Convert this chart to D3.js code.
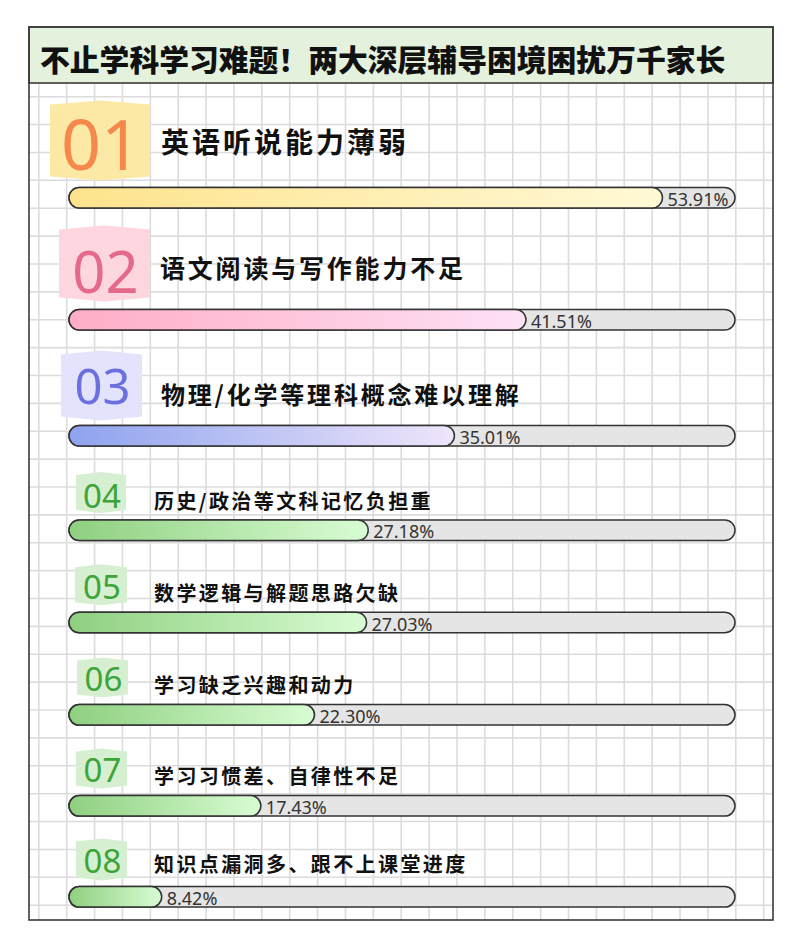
<!DOCTYPE html>
<html>
<head>
<meta charset="utf-8">
<script src="https://cdn.jsdelivr.net/npm/d3@7"></script>
<style>
  html, body { margin: 0; padding: 0; background: #ffffff; }
  svg { display: block; }
</style>
</head>
<body>
<svg id="chart" width="800" height="952"></svg>
<script>
// ---------------- data ----------------
const title = "不止学科学习难题！两大深层辅导困境困扰万千家长";
const ranks = ["01", "02", "03", "04", "05", "06", "07", "08"];
const labels = [
  "英语听说能力薄弱",
  "语文阅读与写作能力不足",
  "物理/化学等理科概念难以理解",
  "历史/政治等文科记忆负担重",
  "数学逻辑与解题思路欠缺",
  "学习缺乏兴趣和动力",
  "学习习惯差、自律性不足",
  "知识点漏洞多、跟不上课堂进度"
];
const values = [53.91, 41.51, 35.01, 27.18, 27.03, 22.30, 17.43, 8.42];
const valueDomain = [0, 60.5];

// ---------------- layout / style ----------------
const W = 800, H = 952;
const frame = { x0: 29, x1: 773, y0: 27, y1: 920 };
const titleBoxBottom = 83;
const track = { x0: 69, x1: 735, h: 20.5 };
const firstBarTop = 187.5;
const rowPitch = [122, 116, 94.5, 92.3, 92.3, 91, 91];

const themes = [
  { badge: "#fde9a6", num: "#f5894b", g0: "#fde38c", g1: "#fff9d6" },
  { badge: "#fdd6df", num: "#e5698a", g0: "#ffadc6", g1: "#fde1f6" },
  { badge: "#e4e3fd", num: "#6b70e0", g0: "#8ea3ee", g1: "#efe5fb" },
  { badge: "#d5efd0", num: "#3da43a", g0: "#8fd080", g1: "#d8fcd3" }
];
// per-row style: badge box relative to bar top, number font, label font
const rowStyle = [
  { theme: 0, bx0: 50, bx1: 150, by0: -87, by1: -7, bulge: 4, num: 70, numDy: -45, lab: 28, ls: 3, labDy: -46.5, lx: 161 },
  { theme: 1, bx0: 59, bx1: 150, by0: -84, by1: -8, bulge: 4, num: 58, numDy: -39, lab: 25, ls: 2.8, labDy: -42.5, lx: 160 },
  { theme: 2, bx0: 61, bx1: 142, by0: -75, by1: -5, bulge: 4, num: 49, numDy: -41, lab: 24, ls: 2.8, labDy: -32.5, lx: 161 },
  { theme: 3, bx0: 76, bx1: 126, by0: -48, by1: -7, bulge: 3, num: 33, numDy: -25, lab: 20, ls: 2.4, labDy: -20, lx: 154 },
  { theme: 3, bx0: 75, bx1: 127, by0: -48, by1: -7, bulge: 3, num: 33, numDy: -26, lab: 20, ls: 2.4, labDy: -20, lx: 154 },
  { theme: 3, bx0: 77, bx1: 128, by0: -47, by1: -7, bulge: 3, num: 33, numDy: -26, lab: 20, ls: 2.4, labDy: -20, lx: 154 },
  { theme: 3, bx0: 76, bx1: 127, by0: -47, by1: -7, bulge: 3, num: 33, numDy: -26, lab: 20, ls: 2.4, labDy: -20, lx: 154 },
  { theme: 3, bx0: 76, bx1: 127, by0: -48, by1: -6, bulge: 3, num: 33, numDy: -26, lab: 20, ls: 2.4, labDy: -23, lx: 154 }
];

const cjk = "'Noto Sans CJK SC', 'Noto Sans', sans-serif";
const latin = "'Noto Sans', 'Noto Sans CJK SC', sans-serif";

const svg = d3.select("#chart");
const defs = svg.append("defs");

// ---------------- background grid ----------------
svg.append("rect").attr("width", W).attr("height", H).attr("fill", "#ffffff");
const grid = svg.append("g").attr("stroke", "#dcdcdc").attr("stroke-width", 1.6);
const gridStep = 27.88;
const vx = d3.range(38.8, frame.x1 - 2, gridStep);
const hy = d3.range(68.8, frame.y1 - 2, gridStep);
grid.selectAll("line.v").data(vx).join("line").attr("class", "v")
  .attr("x1", d => d).attr("x2", d => d).attr("y1", frame.y0).attr("y2", frame.y1);
grid.selectAll("line.h").data(hy).join("line").attr("class", "h")
  .attr("x1", frame.x0).attr("x2", frame.x1).attr("y1", d => d).attr("y2", d => d);

// ---------------- title ----------------
svg.append("rect")
  .attr("x", frame.x0).attr("y", frame.y0)
  .attr("width", frame.x1 - frame.x0).attr("height", titleBoxBottom - frame.y0)
  .attr("fill", "#e3f1dd").attr("stroke", "#3a3a3a").attr("stroke-width", 1.6);
svg.append("text")
  .attr("x", 40).attr("y", 58)
  .attr("dominant-baseline", "central")
  .attr("font-family", cjk).attr("font-weight", 900).attr("font-size", 29.8)
  .attr("fill", "#111").text(title);

// outer frame
svg.append("rect")
  .attr("x", frame.x0).attr("y", frame.y0)
  .attr("width", frame.x1 - frame.x0).attr("height", frame.y1 - frame.y0)
  .attr("fill", "none").attr("stroke", "#3a3a3a").attr("stroke-width", 1.6);

// ---------------- scales ----------------
const x = d3.scaleLinear().domain(valueDomain).range([track.x0, track.x1]);
const barTops = [firstBarTop, ...d3.cumsum(rowPitch).map(d => firstBarTop + d)];
const fmt = d3.format(".2f");

// gradients
themes.forEach((t, i) => {
  const g = defs.append("linearGradient").attr("id", "grad" + i)
    .attr("x1", "0%").attr("x2", "100%").attr("y1", "0%").attr("y2", "0%");
  g.append("stop").attr("offset", "0%").attr("stop-color", t.g0);
  g.append("stop").attr("offset", "100%").attr("stop-color", t.g1);
});

const rows = ranks.map((r, i) => ({ rank: r, label: labels[i], value: values[i], top: barTops[i], st: rowStyle[i] }));

const row = svg.selectAll("g.row").data(rows).join("g").attr("class", "row");

// badge
row.append("path")
  .attr("d", d => {
    const s = d.st, t = d.top;
    const x0 = s.bx0, x1 = s.bx1, cx = (x0 + x1) / 2;
    const y0 = t + s.by0, y1 = t + s.by1, b = s.bulge;
    return `M${x0},${y0 + b}L${cx},${y0}L${x1},${y0 + b}L${x1},${y1 - b}L${cx},${y1}L${x0},${y1 - b}Z`;
  })
  .attr("fill", d => themes[d.st.theme].badge);

row.append("text")
  .attr("x", d => (d.st.bx0 + d.st.bx1) / 2 + 1)
  .attr("y", d => d.top + d.st.numDy)
  .attr("text-anchor", "middle")
  .attr("dominant-baseline", "central")
  .attr("font-family", latin).attr("font-weight", 400)
  .attr("font-size", d => d.st.num)
  .attr("fill", d => themes[d.st.theme].num)
  .text(d => d.rank);

// label
row.append("text")
  .attr("x", d => d.st.lx)
  .attr("y", d => d.top + d.st.labDy)
  .attr("dominant-baseline", "central")
  .attr("font-family", cjk).attr("font-weight", 700)
  .attr("font-size", d => d.st.lab)
  .attr("letter-spacing", d => d.st.ls)
  .attr("fill", "#111")
  .text(d => d.label);

// track
row.append("rect")
  .attr("x", x(0)).attr("y", d => d.top)
  .attr("width", x(valueDomain[1]) - x(0)).attr("height", track.h)
  .attr("rx", track.h / 2)
  .attr("fill", "#e5e5e5").attr("stroke", "#333").attr("stroke-width", 1.5);

// value bar
row.append("rect")
  .attr("x", x(0)).attr("y", d => d.top)
  .attr("width", d => x(d.value) - x(0)).attr("height", track.h)
  .attr("rx", track.h / 2)
  .attr("fill", d => `url(#grad${d.st.theme})`)
  .attr("stroke", "#333").attr("stroke-width", 1.5);

// value label
row.append("text")
  .attr("x", d => x(d.value) + 5)
  .attr("y", d => d.top + track.h / 2 + 1)
  .attr("dominant-baseline", "central")
  .attr("font-family", latin).attr("font-size", 18)
  .attr("fill", "#333")
  .text(d => fmt(d.value) + "%");
</script>
</body>
</html>
